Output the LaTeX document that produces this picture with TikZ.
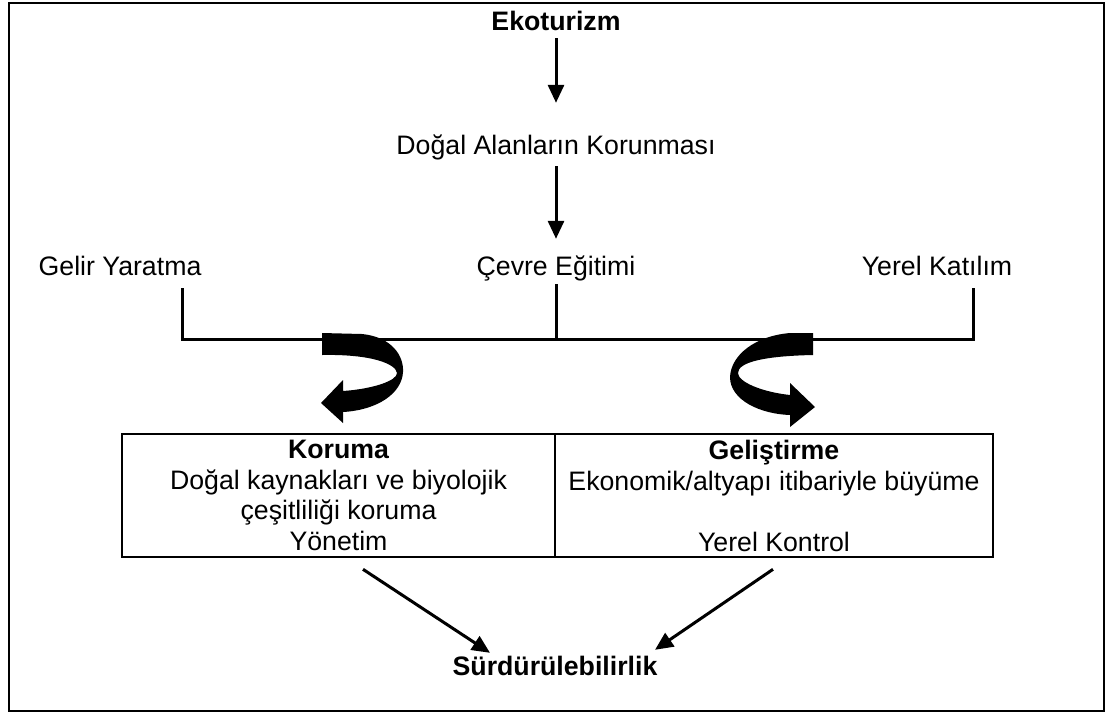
\documentclass[tikz,border=0pt]{standalone}
\usepackage{fontspec}
\setmainfont{Liberation Sans}
\usetikzlibrary{arrows.meta}
\begin{document}
\begin{tikzpicture}[x=1pt,y=-1pt,
		lbl/.style={inner sep=0pt,text height=19pt,text depth=6pt,anchor=base},
		kutu/.style={draw,line width=2.6pt,minimum height=123pt,inner sep=0pt},
		ok/.style={line width=3pt,-{Triangle[length=18pt,width=16pt]}},
		cizgi/.style={line width=3pt}]
			\useasboundingbox(0,0)rectangle(1109,713);
			\fontsize{26.7}{30.5}\selectfont
			\draw[line width=2pt](8.5,3)rectangle(1104,711);
			\node[lbl,font=\bfseries](eko)at(556,30){Ekoturizm};
			\node[lbl](dogal)at(556,154){Doğal Alanların Korunması};
			\node[lbl](gelir)at(120,275){Gelir Yaratma};
			\node[lbl](cevre)at(556,275){Çevre Eğitimi};
			\node[lbl](yerel)at(937,275){Yerel Katılım};
			\node[kutu,minimum width=433pt](koruma)at(338.5,495.5){};
			\node[kutu,minimum width=438pt](gelis)at(774,495.5){};
			\node[anchor=north,align=center,inner sep=0pt](kormetin)at(338.5,440){\bfseries Koruma\\Doğal kaynakları ve biyolojik\\çeşitliliği koruma\\Yönetim};
			\node[anchor=north,align=center,inner sep=0pt](gelmetin)at(774,440){\bfseries Geliştirme\\Ekonomik/altyapı itibariyle büyüme\\ \\Yerel Kontrol};
			\node[lbl,font=\bfseries](surd)at(555,675){Sürdürülebilirlik};
			\coordinate(brl)at(182,288);
			\coordinate(brr)at(973,288);
			\coordinate(brm)at(556,339);
			\draw[ok,shorten <=2pt,shorten >=32pt](eko)--(dogal);
			\draw[ok,shorten <=6pt,shorten >=17pt](dogal)--(cevre);
			\draw[cizgi](brl)|-(brm)-|(brr);
			\draw[cizgi,shorten <=3pt](cevre.south)--(brm);
			\fill[black](322,333)--(362,334)..controls(392,337)and(404,356)..(403,372)..controls(402,393)and(378,410)..(343,412)--(343,423)--(321,403)--(343,380)--(343,391)..controls(372,389)and(397,381)..(397,373)..controls(396,364)and(372,354)..(322,355)--cycle;
			\fill[black](813,333)--(790,333)..controls(755,336)and(731,355)..(730,377)..controls(730,400)and(760,414)..(790,415)--(790,427)--(815,407)--(790,383)--(790,395)..controls(762,392)and(738,382)..(738,373)..controls(738,362)and(765,356)..(813,355)--cycle;
			\draw[ok]([shift={(24.5,11)}]koruma.south)--([shift={(-65,-3)}]surd.north);
			\draw[ok]([shift={(-1,11)}]gelis.south)--([shift={(100,-6)}]surd.north);
		\end{tikzpicture}
\end{document}
